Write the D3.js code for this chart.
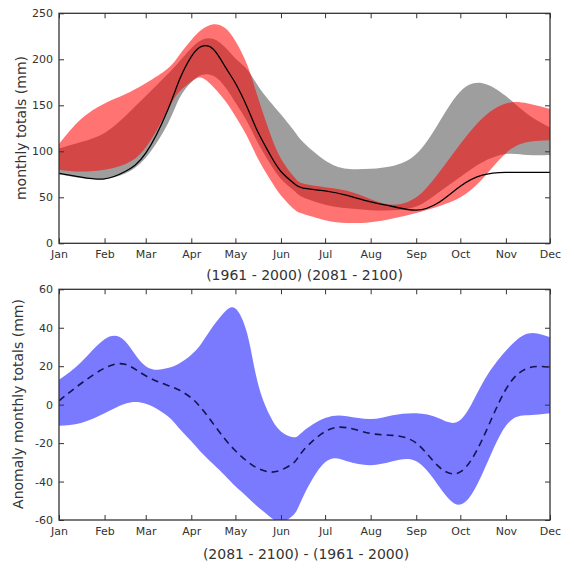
<!DOCTYPE html>
<html><head><meta charset="utf-8">
<script src="https://cdn.jsdelivr.net/npm/d3@7/dist/d3.min.js"></script>
<style>
body{margin:0;background:#fff}
text{font-family:"DejaVu Sans",sans-serif}
</style>
</head><body>
<svg id="chart" width="574" height="569"></svg>
<script>
// ---- data (day of year sampling) ----
const days = [0,15,31,45,59,74,82,90,97,105,113,120,128,135,143,151,160,166,181,196,212,227,243,258,273,288,304,319,334];
const monthNames = ["Jan","Feb","Mar","Apr","May","Jun","Jul","Aug","Sep","Oct","Nov","Dec"];
const monthStarts = [0,31,59,90,120,151,181,212,243,273,304,334];

// 1961-2000 (grey range) and reference mean line (black)
const histMean = [76,72,70,78,98,145,178,203,214,211,192,174,148,122,98,78,65,60,57,52,45,40,36,44,62,74,77,77,77];
const histLow  = [75,71,70,76,93,130,158,175,183,182,170,153,132,110,88,70,57,50,42,38,36,36,40,55,72,88,97,96,96];
const histHigh = [103,110,120,138,160,184,198,212,221,222,213,201,189,172,155,140,122,110,90,81,81,84,97,130,165,174,160,140,126];
// 2081-2100 (red range)
const futLow  = [80,78,80,86,104,145,165,176,180,170,155,138,116,93,71,52,37,32,25,22,23,27,33,40,50,70,98,110,112];
const futHigh = [108,135,152,162,174,190,205,221,232,238,234,220,194,160,122,92,72,65,61,57,48,42,50,76,108,136,152,152,146];
// anomaly (2081-2100) - (1961-2000)
const anomMean = [2,11,19,21,15,10,7.5,3.5,-2,-10,-18,-24,-29.5,-33,-35,-34,-30,-24,-14,-12,-15,-16,-20,-32,-35,-18,8,19,19.5];
const anomLow  = [-11,-9.5,-4.5,0.5,0.5,-6,-12.5,-19,-25,-31,-37,-42.5,-48,-53,-58,-61,-57,-48,-30,-29.5,-31.5,-29.5,-29.5,-42,-52,-36,-11,-5.5,-4.5];
const anomHigh = [13,22,34,33,20,19,21.5,26,32,41,48.5,50,37,12,-5,-14,-17,-14,-7,-6,-7.5,-5.5,-4.5,-7,-8,11,28,37,35];

const topYTicks = [0,50,100,150,200,250];
const botYTicks = [-60,-40,-20,0,20,40,60];
const topYLabel = "monthly totals (mm)";
const topXLabel = "(1961 - 2000) (2081 - 2100)";
const botYLabel = "Anomaly monthly totals (mm)";
const botXLabel = "(2081 - 2100) - (1961 - 2000)";

// ---- drawing ----
const svg = d3.select("#chart");
svg.append("rect").attr("width",574).attr("height",569).attr("fill","#fff");

const L = 59, R = 550;
const x = d3.scaleLinear().domain([0,334]).range([L,R]);
const curve = d3.curveNatural;

function panel(g, y, yTicks, id, fmt){
  const [y0,y1] = y.range();
  g.append("clipPath").attr("id",id).append("rect")
    .attr("x",L).attr("y",y1).attr("width",R-L).attr("height",y0-y1);
  const plot = g.append("g").attr("clip-path",`url(#${id})`);
  const axC = "#333";
  const left = g.append("g").attr("transform",`translate(${L},0)`)
    .call(d3.axisLeft(y).tickValues(yTicks).tickSize(-5).tickPadding(6).tickFormat(fmt));
  const right = g.append("g").attr("transform",`translate(${R},0)`)
    .call(d3.axisRight(y).tickValues(yTicks).tickSize(-5).tickFormat(""));
  const bottom = g.append("g").attr("transform",`translate(0,${y0})`)
    .call(d3.axisBottom(x).tickValues(monthStarts).tickSize(-5).tickPadding(7).tickFormat((d,i)=>monthNames[i]));
  const top = g.append("g").attr("transform",`translate(0,${y1})`)
    .call(d3.axisTop(x).tickValues(monthStarts).tickSize(-5).tickFormat(""));
  [left,right,bottom,top].forEach(a=>{
    a.select(".domain").remove();
    a.selectAll("line").attr("stroke",axC).attr("stroke-width",1);
    a.selectAll("text").attr("font-size",11).attr("fill","#333").attr("font-family","DejaVu Sans");
  });
  g.append("rect").attr("x",L).attr("y",y1).attr("width",R-L).attr("height",y0-y1)
    .attr("fill","none").attr("stroke","#333").attr("stroke-width",1.3);
  return plot;
}

// Top panel
const yTop = d3.scaleLinear().domain([0,250]).range([243.3,13.3]);
const gTop = svg.append("g");
const pTop = panel(gTop, yTop, topYTicks, "clipTop", d3.format("d"));
const idx = days.map((d,i)=>i);
const area = (lo,hi,y)=>d3.area().x(i=>x(days[i])).y0(i=>y(lo[i])).y1(i=>y(hi[i])).curve(curve);
const line = (v,y)=>d3.line().x(i=>x(days[i])).y(i=>y(v[i])).curve(curve);

pTop.append("path").datum(idx).attr("d",area(histLow,histHigh,yTop)).attr("fill","#9e9e9e");
pTop.append("path").datum(idx).attr("d",area(futLow,futHigh,yTop)).attr("fill","#ff0000").attr("fill-opacity",0.55);
pTop.append("path").datum(idx).attr("d",line(histMean,yTop)).attr("fill","none").attr("stroke","#000").attr("stroke-width",1.3);

// Bottom panel
const yBot = d3.scaleLinear().domain([-60,60]).range([520,289.3]);
const gBot = svg.append("g");
const pBot = panel(gBot, yBot, botYTicks, "clipBot", d=>String(d));
pBot.append("path").datum(idx).attr("d",area(anomLow,anomHigh,yBot)).attr("fill","#0000ff").attr("fill-opacity",0.52);
pBot.append("path").datum(idx).attr("d",line(anomMean,yBot)).attr("fill","none")
  .attr("stroke","#141450").attr("stroke-width",1.6).attr("stroke-dasharray","7,5");

// Labels
const lab = (t,xx,yy,rot)=>{
  const s = svg.append("text").text(t).attr("font-size",14).attr("fill","#333").attr("text-anchor","middle");
  if(rot) s.attr("transform",`translate(${xx},${yy}) rotate(-90)`).attr("dy","0.35em");
  else s.attr("x",xx).attr("y",yy);
};
lab(topYLabel,21.5,128,true);
lab(topXLabel,304.5,280);
lab(botYLabel,18.5,404,true);
lab(botXLabel,306,559);
</script>
</body></html>
